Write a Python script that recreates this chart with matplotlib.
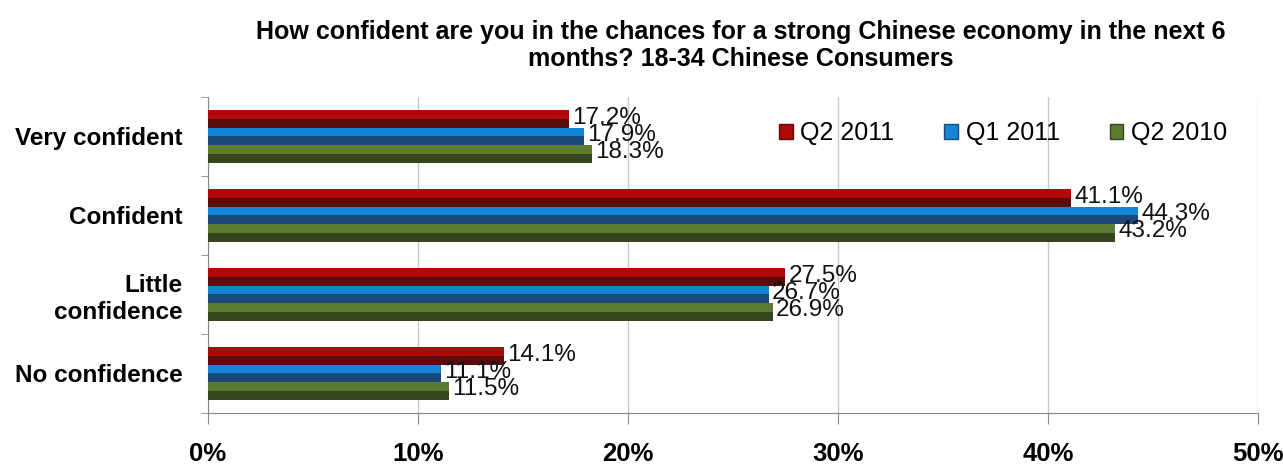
import numpy as np
import matplotlib.pyplot as plt
from matplotlib.patches import Patch

plt.rcParams['font.family'] = ['Liberation Sans', 'DejaVu Sans']

# data
categories = ['Very confident', 'Confident', 'Little\nconfidence', 'No confidence']
series = ['Q2 2011', 'Q1 2011', 'Q2 2010']
q2_2011 = [17.2, 41.1, 27.5, 14.1]
q1_2011 = [17.9, 44.3, 26.7, 11.1]
q2_2010 = [18.3, 43.2, 26.9, 11.5]
values = [q2_2011, q1_2011, q2_2010]

light = ['#b00808', '#1484d4', '#5c7a30']
dark = ['#5a0c0c', '#1a4a7c', '#37451f']

fig = plt.figure(figsize=(12.83, 4.69), dpi=100)
ax = fig.add_axes([0.162, 0.1194, 0.8185, 0.6738])

y = np.arange(len(categories))
h = 0.22
for i, vals in enumerate(values):
    yy = y - h + i * h
    # darker lower half, lighter upper half for the bevel look
    ax.barh(yy, vals, height=h, color=dark[i], zorder=3)
    ax.barh(yy - h / 4, vals, height=h / 2, color=light[i], zorder=3)
    for yv, v in zip(yy, vals):
        ax.text(v + 0.15, yv - 0.02, f'{v}%', fontsize=17.5, va='center', ha='left',
                color='#111111', zorder=5)

ax.set_xlim(0, 50)
ax.set_ylim(3.5, -0.5)
ax.set_xticks(np.arange(0, 51, 10))
ax.set_xticklabels([f'{t}%' for t in range(0, 51, 10)], fontsize=18.5, fontweight='bold')
ax.set_yticks(y)
ax.set_yticklabels(categories, fontsize=17.5, fontweight='bold')
ax.tick_params(axis='y', length=0, pad=18)
ax.set_yticks(np.arange(-0.5, 4, 1), minor=True)
ax.tick_params(axis='y', which='minor', length=5, color='#888888')
ax.tick_params(axis='x', length=8, pad=13, color='#888888')

ax.grid(axis='x', color='#c8c8c8', linewidth=1, zorder=0)
for s in ['top', 'right']:
    ax.spines[s].set_visible(False)
for s in ['left', 'bottom']:
    ax.spines[s].set_color('#888888')

handles = [Patch(facecolor=light[i], edgecolor=dark[i], label=series[i]) for i in range(3)]
ax.legend(handles=handles, ncol=3, loc='upper right', bbox_to_anchor=(0.992, 0.995),
          frameon=False, fontsize=18, handlelength=0.55, handleheight=0.55,
          handletextpad=0.3, columnspacing=2.0)

fig.text(0.577, 0.958, 'How confident are you in the chances for a strong Chinese economy in the next 6\nmonths? 18-34 Chinese Consumers',
         ha='center', va='top', fontsize=18, fontweight='bold', linespacing=1.15)

fig.savefig('out.png', dpi=100)
